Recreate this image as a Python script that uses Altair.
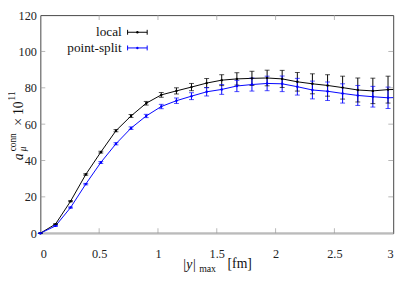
import altair as alt
import pandas as pd

# ---- data ----
x_vals = [0, 0.129, 0.257, 0.386, 0.514, 0.643, 0.771, 0.900, 1.028, 1.157, 1.285,
          1.414, 1.542, 1.671, 1.799, 1.928, 2.056, 2.185, 2.313, 2.442, 2.570,
          2.699, 2.827, 2.956, 3.084]
local = [0, 5.0, 17.6, 32.3, 44.6, 56.4, 64.5, 71.5, 76.1, 78.3, 80.4,
         82.6, 84.2, 84.9, 85.2, 85.4, 84.9, 83.3, 82.2, 81.3, 80.1,
         78.8, 78.3, 79.0, 79.2]
local_err = [0, 0.2, 0.3, 0.4, 0.5, 0.6, 0.8, 1.0, 1.3, 1.7, 2.0,
             2.5, 3.0, 3.4, 3.9, 4.3, 4.7, 5.1, 5.5, 5.9, 6.3,
             6.6, 7.0, 7.4, 7.8]
point_split = [0, 4.0, 14.1, 27.0, 38.9, 49.2, 57.8, 64.5, 69.7, 72.9, 75.4,
               77.8, 79.1, 81.0, 81.8, 82.4, 82.2, 80.6, 78.8, 78.1, 76.9,
               75.8, 75.1, 74.5, 74.8]
point_split_err = [0, 0.2, 0.3, 0.4, 0.5, 0.6, 0.7, 0.9, 1.2, 1.5, 1.9,
                   2.3, 2.7, 3.1, 3.6, 4.0, 4.3, 4.6, 4.9, 5.1, 5.3,
                   5.5, 5.7, 5.9, 6.1]
series_names = ["local", "point-split"]
series_colors = ["#000000", "#0000ff"]
x_ticks = [0, 0.5, 1, 1.5, 2, 2.5, 3]
y_ticks = [0, 20, 40, 60, 80, 100, 120]
inner_x_ticks = [0.5, 1, 1.5, 2, 2.5]
inner_y_ticks = [20, 40, 60, 80, 100]

rows = []
for name, vals, errs in [("local", local, local_err),
                         ("point-split", point_split, point_split_err)]:
    for xv, v, e in zip(x_vals, vals, errs):
        rows.append({"x": xv, "y": v, "lo": v - e, "hi": v + e, "series": name})
df = pd.DataFrame(rows)

W, H = 360, 222.5
FONT = "Liberation Serif"
xs = alt.Scale(domain=[0, 3], nice=False, zero=False)
ys = alt.Scale(domain=[0, 120], nice=False, zero=False)
color = alt.Color("series:N", scale=alt.Scale(domain=series_names, range=series_colors), legend=None)

x_axis = alt.Axis(values=x_ticks, format="~g", ticks=False, domain=False, grid=False,
                  labelOverlap=False, labelFont=FONT, labelFontSize=12.5, labelColor="#222",
                  labelPadding=15, title=None)
y_axis = alt.Axis(values=y_ticks, format="d", ticks=False, domain=False, grid=False,
                  labelOverlap=False, labelFont=FONT, labelFontSize=12.5, labelColor="#222",
                  labelPadding=4, title=None)


def X(field):
    return alt.X(field, scale=xs, axis=x_axis, title=None)


def Y(field):
    return alt.Y(field, scale=ys, axis=y_axis, title=None)


zero = alt.Chart(pd.DataFrame({"x": [0, 3], "y": [0, 0]})).mark_line(
    color="#bbbbbb", strokeWidth=2).encode(x=X("x:Q"), y=Y("y:Q"))

base = alt.Chart(df)
line = base.mark_line(strokeWidth=1, clip=True).encode(x=X("x:Q"), y=Y("y:Q"), color=color)
bars_df = base.transform_filter("datum.x <= 3")
rule = bars_df.mark_rule(strokeWidth=1).encode(x=X("x:Q"), y=Y("lo:Q"), y2="hi:Q", color=color)
cap_lo = bars_df.mark_tick(orient="horizontal", size=5, thickness=1).encode(
    x=X("x:Q"), y=Y("lo:Q"), color=color)
cap_hi = bars_df.mark_tick(orient="horizontal", size=5, thickness=1).encode(
    x=X("x:Q"), y=Y("hi:Q"), color=color)
pts = bars_df.mark_circle(size=6, opacity=1).encode(x=X("x:Q"), y=Y("y:Q"), color=color)

# frame ticks (inward)
tx = pd.DataFrame({"t": inner_x_ticks})
ty = pd.DataFrame({"t": inner_y_ticks})
tick_style = dict(color="#999999", thickness=1)
top_ticks = alt.Chart(tx).mark_tick(orient="vertical", size=5, **tick_style).encode(
    x=X("t:Q"), y=alt.value(2.5))
bot_ticks = alt.Chart(tx).mark_tick(orient="vertical", size=5, **tick_style).encode(
    x=X("t:Q"), y=alt.value(H - 2.5))
left_ticks = alt.Chart(ty).mark_tick(orient="horizontal", size=5, **tick_style).encode(
    y=Y("t:Q"), x=alt.value(2.5))
right_ticks = alt.Chart(ty).mark_tick(orient="horizontal", size=5, **tick_style).encode(
    y=Y("t:Q"), x=alt.value(W - 2.5))

# legend (manual)
legend_layers = []
for i, (name, col) in enumerate(zip(series_names, series_colors)):
    ly = 17.5 + 16 * i
    d = pd.DataFrame({"label": [name]})
    legend_layers.append(alt.Chart(d).mark_text(
        align="right", baseline="middle", font=FONT, fontSize=13.5, color="#111").encode(
        text="label:N", x=alt.value(83), y=alt.value(ly)))
    legend_layers.append(alt.Chart(d).mark_rule(color=col, strokeWidth=1).encode(
        x=alt.value(89), x2=alt.value(109), y=alt.value(ly)))
    legend_layers.append(alt.Chart(d).mark_rule(color=col, strokeWidth=1).encode(
        x=alt.value(89), y=alt.value(ly - 2.5), y2=alt.value(ly + 2.5)))
    legend_layers.append(alt.Chart(d).mark_rule(color=col, strokeWidth=1).encode(
        x=alt.value(109), y=alt.value(ly - 2.5), y2=alt.value(ly + 2.5)))
    legend_layers.append(alt.Chart(d).mark_circle(color=col, size=6, opacity=1).encode(
        x=alt.value(99), y=alt.value(ly)))


# axis titles built from text pieces
def piece(text, x, y, size, italic=False, angle=0):
    kw = dict(align="left", baseline="alphabetic", font=FONT, fontSize=size, color="#111")
    if italic:
        kw["fontStyle"] = "italic"
    if angle:
        kw["angle"] = angle
    return alt.Chart(pd.DataFrame({"t": [text]})).mark_text(**kw).encode(
        text="t:N", x=alt.value(x), y=alt.value(y))


title_pieces = [
    piece("a", -18, 148, 14, italic=True, angle=270),
    piece("μ", -14.5, 139, 9.5, italic=True, angle=270),
    piece("conn", -25, 139, 9.5, angle=270),
    piece("×", -18, 113, 14, angle=270),
    piece("10", -18, 102, 14, angle=270),
    piece("11", -26, 87, 9.5, angle=270),
    piece("|y|", 145, 259.5, 14, italic=True),
    piece("max", 162, 262.5, 10),
    piece("[fm]", 191, 258.5, 14),
]

chart = alt.layer(zero, line, rule, cap_lo, cap_hi, pts,
                  top_ticks, bot_ticks, left_ticks, right_ticks,
                  *legend_layers, *title_pieces).properties(
    width=W, height=H,
    padding={"left": 33, "top": 4.5, "right": 10, "bottom": 45},
    autosize="none",
).configure_view(stroke="#444444", strokeWidth=1).configure_axis(labelOverlap=False)

chart.save("out.html", embed_options={"renderer": "svg", "actions": False})
